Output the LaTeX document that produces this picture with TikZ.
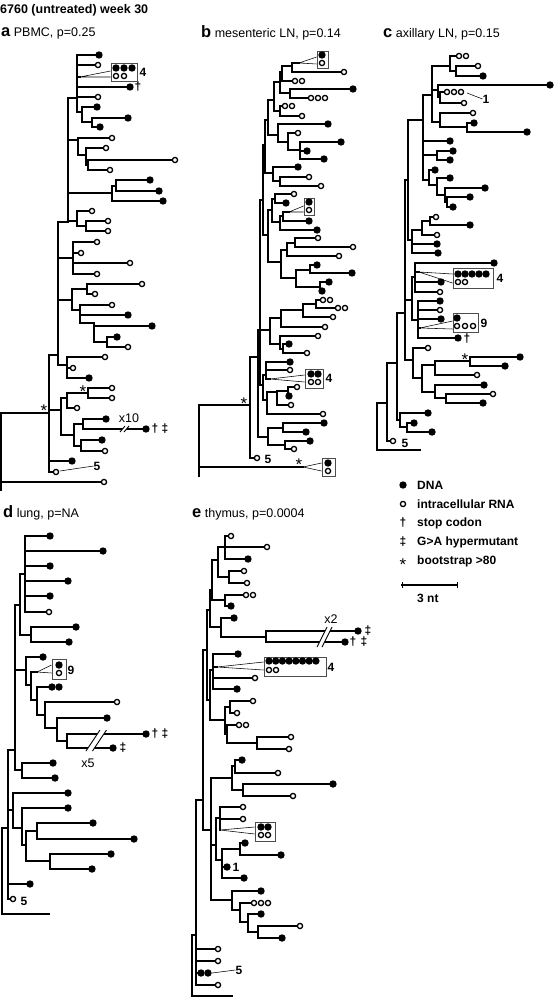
\documentclass[tikz,border=0pt]{standalone}
\usepackage{fontspec}
\setmainfont{Liberation Sans}
\usetikzlibrary{calc}
\tikzset{
  br/.style={line width=1.15pt, line cap=rect},
  dna/.style={circle, fill=black, inner sep=0pt, minimum size=7.4pt},
  rna/.style={circle, draw=black, fill=white, line width=1.3pt, inner sep=0pt, minimum size=5.2pt},
  grp/.style={draw=black!70, line width=0.8pt, inner sep=0pt},
  fan/.style={line width=0.55pt},
  cut/.style={line width=0.9pt},
  cnt/.style={font=\bfseries\fontsize{12}{12}\selectfont, inner sep=0pt},
  mut/.style={font=\bfseries\fontsize{12}{12}\selectfont, inner sep=0pt},
  boot/.style={font=\fontsize{17}{17}\selectfont, inner sep=0pt, yshift=-3.5pt},
  copies/.style={font=\fontsize{12.5}{12.5}\selectfont, inner sep=0pt},
  panel/.style={anchor=base west, inner sep=0pt, font=\fontsize{12.5}{14}\selectfont},
  key/.style={anchor=west, inner sep=0pt, font=\bfseries\fontsize{12}{14}\selectfont}
}
\newcommand{\pletter}[1]{{\bfseries\fontsize{16.5}{16}\selectfont #1}}
\newcommand{\seqleaf}[4]{\draw[br] (#1) |- (#2,#3) node[#4] {};}
\newcommand{\seqrow}[5]{\draw[br] (#1) |- (#2,#3);
  \foreach \k in {1,...,#5} {\node[#4] at ({#2+7*(\k-1)},#3) {};}}
\newcommand{\subclade}[2]{\draw[br] (#1) |- (#2);}
\newcommand{\cutmark}[5]{%
  \fill[white] (#1,#2) -- (#3,#4) -- ({#3+#5},#4) -- ({#1+#5},#2) -- cycle;
  \draw[cut] (#1,#2) -- (#3,#4) ({#1+#5},#2) -- ({#3+#5},#4);}

\begin{document}
\begin{tikzpicture}[x=1pt, y=-1pt, font=\fontsize{12.5}{14}\selectfont]
\useasboundingbox (0,0) rectangle (555,998);

\node[anchor=west, inner sep=0pt, font=\bfseries\fontsize{12.5}{14}\selectfont] (title) at (0,10) {6760 (untreated) week 30};

% ---------------- a: PBMC
\node[panel] (labA) at (1,37) {\pletter{a} PBMC, p=0.25};
\coordinate (a0) at (1,413);   \coordinate (aEnd) at (1,490);
\coordinate (aI) at (49,413);  \coordinate (as1) at (58,355);
\coordinate (aU) at (68,222);  \coordinate (aA1) at (77,98);
\coordinate (aA1s) at (82,112); \coordinate (aA1t) at (92,122);
\coordinate (aF) at (80,77);
\coordinate (aA2) at (78,140); \coordinate (aA2s) at (86,155); \coordinate (aA2t) at (88,165);
\coordinate (aA3) at (112,193); \coordinate (aA3s) at (116,186);
\coordinate (aA4) at (77,221); \coordinate (aA4s) at (86,226);
\coordinate (aA5) at (73,258);
\coordinate (aP) at (72,300); \coordinate (aT) at (87,289); \coordinate (aQ) at (80,310);
\coordinate (aR) at (94,323); \coordinate (aS) at (107,342);
\coordinate (ag3) at (67,365); \coordinate (ag2) at (61,410);
\coordinate (aG1) at (67,398); \coordinate (aSt) at (88,393);
\coordinate (aG2) at (74,435); \coordinate (an1) at (83,424); \coordinate (an2) at (81,446);

\draw[br] (aEnd) -- (a0) -- (aI);
\seqleaf{a0}{104}{482}{rna}
\subclade{aI}{as1} \subclade{aI}{ag2}
\seqleaf{aI}{72}{461}{dna}
\seqleaf{aI}{56}{472}{rna}
\subclade{as1}{aU} \subclade{as1}{aA5} \subclade{as1}{aP} \subclade{as1}{ag3}
\subclade{aU}{aA1} \subclade{aU}{aA2} \subclade{aU}{aA3} \subclade{aU}{aA4}
\seqleaf{aA1}{99}{55}{dna}
\seqleaf{aA1}{98}{65}{rna}
\subclade{aA1}{aF}
\seqleaf{aA1}{130}{87}{dna}
\seqleaf{aA1}{98}{97}{rna}
\subclade{aA1}{aA1s}
\seqleaf{aA1s}{97}{107}{dna}
\subclade{aA1s}{aA1t}
\seqleaf{aA1t}{128}{118}{dna}
\seqleaf{aA1t}{100}{127}{dna}
\seqleaf{aA2}{112}{138}{rna}
\subclade{aA2}{aA2s}
\seqleaf{aA2s}{106}{148}{rna}
\subclade{aA2s}{aA2t}
\seqleaf{aA2t}{175}{160}{rna}
\seqleaf{aA2t}{110}{170}{rna}
\subclade{aA3}{aA3s}
\seqleaf{aA3s}{150}{180}{dna}
\seqleaf{aA3s}{159}{191}{dna}
\seqleaf{aA3}{163}{201}{dna}
\seqleaf{aA4}{92}{211}{rna}
\subclade{aA4}{aA4s}
\seqleaf{aA4s}{108}{221}{rna}
\seqleaf{aA4s}{108}{231}{rna}
\seqleaf{aA5}{97}{242}{rna}
\seqleaf{aA5}{81}{253}{rna}
\seqleaf{aA5}{130}{263}{rna}
\seqleaf{aA5}{97}{274}{rna}
\subclade{aP}{aT} \subclade{aP}{aQ}
\seqleaf{aT}{142}{284}{rna}
\seqleaf{aT}{95}{294}{rna}
\seqleaf{aQ}{112}{305}{rna}
\seqleaf{aQ}{128}{315}{dna}
\subclade{aQ}{aR}
\seqleaf{aR}{152}{326}{dna}
\subclade{aR}{aS}
\seqleaf{aS}{117}{337}{dna}
\seqleaf{aS}{128}{347}{rna}
\seqleaf{ag3}{105}{357}{rna}
\seqleaf{ag3}{73}{368}{rna}
\seqleaf{ag3}{89}{378}{dna}
\subclade{ag2}{aG1} \subclade{ag2}{aG2}
\subclade{aG1}{aSt}
\seqleaf{aSt}{112}{388}{rna}
\seqleaf{aSt}{112}{398}{rna}
\seqleaf{aG1}{77}{408}{rna}
\subclade{aG2}{an1} \subclade{aG2}{an2}
\seqleaf{an1}{106}{419}{dna}
\seqleaf{an1}{146}{429}{dna}
\seqleaf{an2}{102}{440}{dna}
\seqleaf{an2}{105}{451}{rna}
\cutmark{120}{432}{125}{426}{4}
\node[copies] (aX) at (129,418) {x10};
\node[mut] at (155,429) {†};
\node[mut] at (165,429) {‡};
\node[mut] at (138,87) {†};
\node[boot] at (44,407) {*};
\node[boot] at (83,388) {*};
\node[grp, minimum width=26pt, minimum height=18pt] (aBox) at (124,72) {};
\draw[fan] (aF) -- ([yshift=1pt]aBox.west) (aF) -- ([yshift=-5pt]aBox.west);
\foreach \u in {116,124,132} \node[dna] at (\u,68) {};
\foreach \u in {116,124} \node[rna] at (\u,76) {};
\node[cnt] (a4) at (143,72) {4};
\node[cnt] (a5) at (97,466) {5};
\draw[fan] (60,471) -- (a5.west);

% ---------------- b: mesenteric LN
\node[panel] (labB) at (201,37.5) {\pletter{b} mesenteric LN, p=0.14};
\coordinate (b0) at (199,405); \coordinate (bEnd) at (199,476);
\coordinate (bOut) at (303,467);
\coordinate (bB0) at (250,405); \coordinate (bS1) at (258,357);
\coordinate (bS2) at (260,330); \coordinate (bS3) at (263,200);
\coordinate (bN8) at (265,145); \coordinate (bN7) at (268,120);
\coordinate (bN5) at (274,100); \coordinate (bN4) at (280,82);
\coordinate (bN2) at (282,72); \coordinate (bN1) at (292,66);
\coordinate (bF1) at (299,63);
\coordinate (bN3) at (290,93); \coordinate (bN5b) at (280,111);
\coordinate (bN6) at (278,135); \coordinate (bN6a) at (288,142); \coordinate (bN6b) at (300,150);
\coordinate (bN9) at (273,173); \coordinate (bN9a) at (280,181);
\coordinate (bN13) at (268,235); \coordinate (bN12) at (272,210);
\coordinate (bN10) at (275,199); \coordinate (bN11) at (280,222); \coordinate (bN11a) at (283,216);
\coordinate (bF2) at (289,212);
\coordinate (bC6) at (281,262); \coordinate (bC2) at (287,250); \coordinate (bC1) at (295,243);
\coordinate (bC5) at (296,278); \coordinate (bC3) at (310,270); \coordinate (bC4) at (320,287);
\coordinate (bD) at (270,330); \coordinate (bD3) at (281,318); \coordinate (bD2) at (303,310);
\coordinate (bD1) at (316,304); \coordinate (bD4) at (280,344); \coordinate (bD4a) at (283,349);
\coordinate (bE) at (263,385); \coordinate (bE1) at (266,375); \coordinate (bF3) at (270,379);
\coordinate (bE2) at (267,400); \coordinate (bE2a) at (277,392); \coordinate (bE2b) at (288,391);
\coordinate (bBL) at (268,437); \coordinate (bL1) at (283,428); \coordinate (bL2) at (285,445);

\draw[br] (bEnd) -- (b0) -- (bB0);
\draw[br] (b0) |- (bOut);
\subclade{bB0}{bS1}
\seqleaf{bB0}{257}{458}{rna}
\subclade{bS1}{bS2} \subclade{bS1}{bBL}
\subclade{bS2}{bS3} \subclade{bS2}{bD} \subclade{bS2}{bE}
\subclade{bS3}{bN8} \subclade{bS3}{bN13}
\subclade{bN8}{bN7} \subclade{bN8}{bN9}
\subclade{bN7}{bN5} \subclade{bN7}{bN6}
\subclade{bN5}{bN4} \subclade{bN5}{bN5b}
\subclade{bN4}{bN2} \subclade{bN4}{bN3}
\subclade{bN2}{bN1}
\seqrow{bN2}{295}{81}{rna}{2}
\subclade{bN1}{bF1}
\seqleaf{bN1}{344}{72}{rna}
\seqleaf{bN3}{353}{89}{dna}
\seqrow{bN3}{311}{98}{rna}{3}
\seqrow{bN5b}{285}{106}{rna}{2}
\seqleaf{bN5b}{302}{116}{rna}
\seqleaf{bN6}{328}{124}{dna}
\subclade{bN6}{bN6a}
\seqleaf{bN6a}{298}{133}{rna}
\subclade{bN6a}{bN6b}
\seqleaf{bN6b}{341}{142}{dna}
\seqleaf{bN6b}{307}{151}{dna}
\seqleaf{bN6b}{324}{159}{dna}
\seqleaf{bN9}{298}{167}{dna}
\subclade{bN9}{bN9a}
\seqleaf{bN9a}{309}{177}{rna}
\seqleaf{bN9a}{321}{186}{rna}
\subclade{bN13}{bN12} \subclade{bN13}{bC6}
\subclade{bN12}{bN10} \subclade{bN12}{bN11}
\seqleaf{bN10}{294}{194}{rna}
\seqleaf{bN10}{286}{203}{dna}
\subclade{bN11}{bN11a}
\subclade{bN11a}{bF2}
\seqleaf{bN11a}{309}{221}{dna}
\seqleaf{bN11}{317}{230}{dna}
\subclade{bC6}{bC2} \subclade{bC6}{bC5}
\subclade{bC2}{bC1}
\seqleaf{bC1}{318}{238}{rna}
\seqleaf{bC1}{353}{247}{rna}
\seqleaf{bC2}{339}{256}{rna}
\subclade{bC5}{bC3} \subclade{bC5}{bC4}
\seqleaf{bC3}{317}{265}{dna}
\seqleaf{bC3}{352}{273}{dna}
\seqleaf{bC4}{329}{282}{dna}
\seqleaf{bC4}{322}{291}{dna}
\subclade{bD}{bD3} \subclade{bD}{bD4}
\subclade{bD3}{bD2} \subclade{bD2}{bD1}
\seqrow{bD1}{323}{300}{rna}{2}
\seqrow{bD1}{338}{308}{rna}{2}
\seqleaf{bD2}{333}{317}{rna}
\seqleaf{bD3}{325}{327}{rna}
\seqleaf{bD4}{318}{336}{rna}
\subclade{bD4}{bD4a}
\seqleaf{bD4a}{289}{344}{dna}
\seqleaf{bD4a}{307}{353}{rna}
\subclade{bE}{bE1} \subclade{bE}{bE2}
\seqleaf{bE1}{290}{362}{dna}
\seqleaf{bE1}{290}{370}{rna}
\subclade{bE1}{bF3}
\subclade{bE2}{bE2a}
\subclade{bE2a}{bE2b}
\seqleaf{bE2b}{297}{387}{rna}
\seqleaf{bE2b}{289}{396}{dna}
\seqleaf{bE2a}{291}{405}{rna}
\seqleaf{bE2}{323}{414}{rna}
\subclade{bBL}{bL1} \subclade{bBL}{bL2}
\seqleaf{bL1}{324}{423}{dna}
\seqleaf{bL1}{306}{432}{dna}
\seqleaf{bL2}{310}{441}{dna}
\seqleaf{bL2}{294}{449}{rna}
\node[boot] at (244,400) {*};
\node[boot] at (299,461) {*};
\node[grp, minimum width=11pt, minimum height=17pt] (bBox1) at (322.5,59.5) {};
\draw[fan] (bF1) -- ([yshift=2.5pt]bBox1.west) (bF1) -- ([yshift=-4.5pt]bBox1.west);
\node[dna] at (322,55) {}; \node[rna] at (322,63) {};
\node[grp, minimum width=10pt, minimum height=17pt] (bBox2) at (309,206.5) {};
\draw[fan] (bF2) -- ([yshift=0.5pt]bBox2.west) (bF2) -- ([yshift=-5.5pt]bBox2.west);
\node[dna] at (309,202) {}; \node[rna] at (309,210) {};
\node[grp, minimum width=18pt, minimum height=19pt] (bBox3) at (314,378.5) {};
\draw[fan] (bF3) -- ([yshift=3.5pt]bBox3.west) (bF3) -- ([yshift=-3.5pt]bBox3.west);
\foreach \u in {311,318} {\node[dna] at (\u,374) {}; \node[rna] at (\u,382) {};}
\node[cnt] (b4) at (329,378) {4};
\node[grp, minimum width=13pt, minimum height=18pt] (bBox4) at (328.5,467) {};
\draw[fan] (bOut) -- ([yshift=4pt]bBox4.west) (bOut) -- ([yshift=-4pt]bBox4.west);
\node[dna] at (328,463) {}; \node[rna] at (328,471) {};
\node[cnt] (b5) at (268,459) {5};

% ---------------- c: axillary LN
\node[panel] (labC) at (383,37.5) {\pletter{c} axillary LN, p=0.15};
\coordinate (c0) at (377,403); \coordinate (cOut) at (420,450);
\coordinate (cI) at (387,403); \coordinate (cS3) at (397,363);
\coordinate (cL) at (400,420); \coordinate (cLa) at (407,427);
\coordinate (cS2) at (405,313); \coordinate (cS1) at (408,180);
\coordinate (cU) at (423,120); \coordinate (cc1) at (432,95);
\coordinate (cc1a) at (450,66); \coordinate (cc1e) at (456,71);
\coordinate (cc1c) at (438,90); \coordinate (cc1b) at (440,97);
\coordinate (cc1d) at (440,122); \coordinate (cc1f) at (467,127);
\coordinate (cc2a) at (437,155); \coordinate (cc2b) at (429,180);
\coordinate (cc2c) at (437,185); \coordinate (cc2d) at (445,195); \coordinate (cc2e) at (447,202);
\coordinate (cc3) at (412,240); \coordinate (cc3b) at (422,230); \coordinate (cc3a) at (430,221);
\coordinate (cc4) at (412,300); \coordinate (cc4a) at (415,277); \coordinate (cc4b) at (418,320);
\coordinate (cF1) at (419,272); \coordinate (cF2) at (420,328);
\coordinate (cc5) at (413,360); \coordinate (cc5c) at (422,378);
\coordinate (cc5a) at (435,365); \coordinate (cSt) at (470,361);
\coordinate (cc5b) at (435,392); \coordinate (cc5d) at (446,398);

\draw[br] (c0) -- (cI);
\draw[br] (c0) |- (cOut);
\subclade{cI}{cS3}
\seqleaf{cI}{393}{441}{rna}
\subclade{cS3}{cS2} \subclade{cS3}{cL}
\seqleaf{cL}{428}{413}{dna}
\subclade{cL}{cLa}
\seqleaf{cLa}{414}{423}{dna}
\seqleaf{cLa}{432}{432}{dna}
\subclade{cS2}{cS1} \subclade{cS2}{cc4} \subclade{cS2}{cc5}
\subclade{cS1}{cU} \subclade{cS1}{cc3}
\subclade{cU}{cc1} \subclade{cU}{cc2a} \subclade{cU}{cc2b}
\seqleaf{cU}{450}{141}{dna}
\subclade{cc1}{cc1a} \subclade{cc1}{cc1c} \subclade{cc1}{cc1d}
\seqrow{cc1a}{459}{56}{rna}{2}
\subclade{cc1a}{cc1e}
\seqleaf{cc1e}{478}{66}{rna}
\seqleaf{cc1e}{483}{76}{dna}
\seqleaf{cc1c}{550}{85}{dna}
\subclade{cc1c}{cc1b}
\seqrow{cc1b}{447}{92}{rna}{3}
\seqleaf{cc1b}{464}{103}{rna}
\seqleaf{cc1d}{473}{113}{rna}
\subclade{cc1d}{cc1f}
\seqleaf{cc1f}{474}{123}{dna}
\seqleaf{cc1f}{527}{132}{dna}
\seqleaf{cc2a}{453}{151}{dna}
\seqleaf{cc2a}{450}{160}{dna}
\seqleaf{cc2b}{435}{170}{dna}
\subclade{cc2b}{cc2c}
\seqleaf{cc2c}{450}{178}{dna}
\subclade{cc2c}{cc2d}
\seqleaf{cc2d}{485}{188}{dna}
\subclade{cc2d}{cc2e}
\seqleaf{cc2e}{470}{197}{dna}
\seqleaf{cc2e}{453}{207}{dna}
\subclade{cc3}{cc3b}
\subclade{cc3b}{cc3a}
\seqleaf{cc3a}{436}{217}{rna}
\seqleaf{cc3a}{470}{225}{dna}
\seqleaf{cc3b}{437}{235}{rna}
\seqleaf{cc3}{437}{244}{dna}
\seqleaf{cc3}{438}{253}{dna}
\subclade{cc4}{cc4a} \subclade{cc4}{cc4b}
\seqleaf{cc4a}{494}{263}{dna}
\subclade{cc4a}{cF1}
\seqleaf{cc4a}{441}{282}{dna}
\seqleaf{cc4a}{440}{292}{rna}
\seqleaf{cc4b}{440}{301}{dna}
\seqleaf{cc4b}{440}{310}{rna}
\seqleaf{cc4b}{441}{319}{dna}
\subclade{cc4b}{cF2}
\seqleaf{cc4b}{458}{338}{dna}
\node[mut] at (467,339) {†};
\seqleaf{cc5}{428}{348}{rna}
\subclade{cc5}{cc5c}
\subclade{cc5c}{cc5a} \subclade{cc5c}{cc5b}
\subclade{cc5a}{cSt}
\seqleaf{cSt}{520}{357}{dna}
\seqleaf{cSt}{505}{366}{dna}
\seqleaf{cc5a}{477}{375}{rna}
\seqleaf{cc5b}{484}{385}{dna}
\subclade{cc5b}{cc5d}
\seqleaf{cc5d}{493}{394}{rna}
\seqleaf{cc5d}{483}{403}{dna}
\node[boot] at (465,356) {*};
\node[cnt] (c1) at (486,99) {1};
\draw[fan] (467,93) -- (c1.west);
\node[grp, minimum width=40pt, minimum height=20pt] (cBox1) at (473,278) {};
\draw[fan] (cF1) -- ([yshift=4pt]cBox1.west) (cF1) -- ([yshift=-5pt]cBox1.west);
\foreach \k in {0,...,4} \node[dna] at ({458+7*\k},274) {};
\foreach \u in {458,465} \node[rna] at (\u,282) {};
\node[cnt] (c4) at (500,278) {4};
\node[grp, minimum width=25pt, minimum height=19pt] (cBox2) at (465.5,322.5) {};
\draw[fan] (cF2) -- ([yshift=1.5pt]cBox2.west) (cF2) -- ([yshift=-6.5pt]cBox2.west);
\node[dna] at (457,318) {};
\foreach \u in {457,465,473} \node[rna] at (\u,326) {};
\node[cnt] (c9) at (484,323) {9};
\node[cnt] (c5) at (405,443) {5};

% ---------------- d: lung
\node[panel] (labD) at (3,517) {\pletter{d} lung, p=NA};
\coordinate (d0) at (2,828); \coordinate (dOut) at (49,914);
\coordinate (dE) at (8,828); \coordinate (dAB) at (15,750);
\coordinate (dA) at (20,605); \coordinate (d1) at (25,574); \coordinate (d2) at (31,635);
\coordinate (dB) at (26,670); \coordinate (dB0) at (31,685); \coordinate (dF) at (37,672);
\coordinate (dB1) at (37,700); \coordinate (dB2) at (45,715);
\coordinate (dB3) at (57,728); \coordinate (dB4) at (67,741);
\coordinate (dC) at (22,770);
\coordinate (dD) at (13,810); \coordinate (dD4) at (22,828); \coordinate (dD3) at (26,845);
\coordinate (dD1) at (37,831); \coordinate (dD2) at (50,861);

\draw[br] (d0) -- (dE);
\draw[br] (d0) |- (dOut);
\subclade{dE}{dAB} \subclade{dE}{dD}
\seqleaf{dE}{30}{884}{dna}
\seqleaf{dE}{13}{899}{rna}
\subclade{dAB}{dA} \subclade{dAB}{dB} \subclade{dAB}{dC}
\subclade{dA}{d1} \subclade{dA}{d2}
\seqleaf{d1}{50}{536}{dna}
\seqleaf{d1}{103}{551}{dna}
\seqleaf{d1}{50}{566}{dna}
\seqleaf{d1}{68}{581}{dna}
\seqleaf{d1}{50}{596}{dna}
\seqleaf{d1}{49}{612}{rna}
\seqleaf{d2}{76}{627}{dna}
\seqleaf{d2}{69}{642}{dna}
\seqleaf{dB}{43}{657}{dna}
\subclade{dB}{dB0}
\subclade{dB0}{dF}
\subclade{dB0}{dB1}
\seqrow{dB1}{52}{687}{dna}{2}
\subclade{dB1}{dB2}
\seqleaf{dB2}{117}{702}{rna}
\subclade{dB2}{dB3}
\seqleaf{dB3}{107}{718}{dna}
\subclade{dB3}{dB4}
\seqleaf{dB4}{146}{734}{dna}
\seqleaf{dB4}{113}{748}{dna}
\cutmark{86}{751}{100}{730}{6.5}
\node[copies] (dX) at (88,763) {x5};
\node[mut] at (155,734) {†};
\node[mut] at (165,734) {‡};
\node[mut] at (123,748) {‡};
\seqleaf{dC}{53}{763}{dna}
\seqleaf{dC}{55}{778}{dna}
\seqleaf{dD}{68}{793}{dna}
\subclade{dD}{dD4}
\seqleaf{dD4}{68}{808}{dna}
\subclade{dD4}{dD3}
\subclade{dD3}{dD1} \subclade{dD3}{dD2}
\seqleaf{dD1}{93}{823}{dna}
\seqleaf{dD1}{134}{839}{dna}
\seqleaf{dD2}{111}{854}{dna}
\seqleaf{dD2}{92}{869}{dna}
\node[grp, minimum width=14pt, minimum height=20pt] (dBox) at (59,669) {};
\draw[fan] (dF) -- ([yshift=4pt]dBox.west) (dF) -- ([yshift=-4pt]dBox.west);
\node[dna] at (59,665) {}; \node[rna] at (59,673) {};
\node[cnt] (d9) at (71,670) {9};
\node[cnt] (d5) at (24,901) {5};

% ---------------- e: thymus
\node[panel] (labE) at (192,517) {\pletter{e} thymus, p=0.0004};
\coordinate (e0) at (192,935); \coordinate (eOut) at (232,996);
\coordinate (e9) at (196,935); \coordinate (e8) at (203,800);
\coordinate (e6) at (207,650); \coordinate (e4) at (210,610);
\coordinate (e2) at (212,590); \coordinate (e1) at (218,560);
\coordinate (e1a) at (225,547); \coordinate (e1b) at (229,577); \coordinate (e1c) at (225,600);
\coordinate (e3) at (221,627); \coordinate (e3a) at (266,637);
\coordinate (e5) at (210,700); \coordinate (e5a) at (213,670); \coordinate (eF1) at (217,667);
\coordinate (e5d) at (225,720); \coordinate (e5b) at (230,707);
\coordinate (e5c) at (227,734); \coordinate (e5e) at (257,743);
\coordinate (e7) at (211,830); \coordinate (e7c) at (232,778);
\coordinate (e7a) at (235,766); \coordinate (e7b) at (243,790);
\coordinate (e7h) at (216,845); \coordinate (e7d) at (220,818); \coordinate (eF2) at (220,830);
\coordinate (e7e) at (222,860); \coordinate (e7g) at (240,849);
\coordinate (e7f) at (232,900); \coordinate (e7i) at (240,910);
\coordinate (e7j) at (248,922); \coordinate (e7k) at (258,932);

\draw[br] (e0) -- (e9);
\draw[br] (e0) |- (eOut);
\subclade{e9}{e8}
\seqleaf{e9}{218}{949}{rna}
\seqleaf{e9}{218}{961}{rna}
\seqrow{e9}{201}{973}{dna}{2}
\seqleaf{e9}{218}{985}{rna}
\subclade{e8}{e6} \subclade{e8}{e7}
\subclade{e6}{e4} \subclade{e6}{e5}
\subclade{e4}{e2} \subclade{e4}{e3}
\subclade{e2}{e1} \subclade{e2}{e1c}
\subclade{e1}{e1a} \subclade{e1}{e1b}
\seqleaf{e1a}{231}{536}{rna}
\seqleaf{e1a}{267}{547}{rna}
\seqleaf{e1a}{248}{559}{dna}
\seqleaf{e1b}{244}{571}{rna}
\seqleaf{e1b}{247}{583}{rna}
\seqrow{e1c}{246}{595}{rna}{2}
\seqleaf{e1c}{231}{606}{dna}
\seqleaf{e3}{234}{618}{dna}
\subclade{e3}{e3a}
\seqleaf{e3a}{358}{631}{dna}
\seqleaf{e3a}{345}{642}{dna}
\cutmark{317}{647}{327}{627}{5}
\node[copies] (eX) at (331,619) {x2};
\node[mut] at (368,631) {‡};
\node[mut] at (353,642) {†};
\node[mut] at (364,642) {‡};
\subclade{e5}{e5a} \subclade{e5}{e5d}
\seqleaf{e5a}{238}{654}{dna}
\subclade{e5a}{eF1}
\seqleaf{e5a}{255}{678}{rna}
\seqleaf{e5a}{237}{689}{dna}
\subclade{e5d}{e5b} \subclade{e5d}{e5c}
\seqleaf{e5b}{253}{701}{rna}
\seqleaf{e5b}{237}{713}{rna}
\seqrow{e5c}{239}{725}{rna}{2}
\subclade{e5c}{e5e}
\seqleaf{e5e}{291}{737}{rna}
\seqleaf{e5e}{289}{749}{rna}
\subclade{e7}{e7c} \subclade{e7}{e7h} \subclade{e7}{e7f}
\subclade{e7c}{e7a} \subclade{e7c}{e7b}
\seqleaf{e7a}{242}{760}{dna}
\seqleaf{e7a}{278}{773}{rna}
\seqleaf{e7b}{333}{784}{dna}
\seqleaf{e7b}{293}{796}{rna}
\subclade{e7h}{e7d} \subclade{e7h}{e7e}
\seqleaf{e7d}{243}{807}{rna}
\seqleaf{e7d}{243}{819}{rna}
\subclade{e7d}{eF2}
\subclade{e7e}{e7g}
\seqleaf{e7g}{245}{843}{dna}
\seqleaf{e7g}{281}{855}{dna}
\seqleaf{e7e}{227}{867}{dna}
\seqleaf{e7e}{244}{878}{dna}
\seqleaf{e7f}{261}{891}{dna}
\subclade{e7f}{e7i}
\seqrow{e7i}{254}{903}{rna}{3}
\subclade{e7i}{e7j}
\seqleaf{e7j}{261}{914}{dna}
\subclade{e7j}{e7k}
\seqleaf{e7k}{300}{926}{rna}
\seqleaf{e7k}{282}{938}{dna}
\node[grp, minimum width=62pt, minimum height=19pt] (eBox1) at (295,666.5) {};
\draw[fan] (eF1) -- ([yshift=4.5pt]eBox1.west) (eF1) -- ([yshift=-3.5pt]eBox1.west);
\foreach \k in {0,...,7} \node[dna] at ({269+6.7*\k},661) {};
\foreach \u in {269,276} \node[rna] at (\u,670) {};
\node[cnt] (e4n) at (331,667) {4};
\node[grp, minimum width=20pt, minimum height=19pt] (eBox2) at (265,831.5) {};
\draw[fan] (eF2) -- ([yshift=4.5pt]eBox2.west) (eF2) -- ([yshift=-2.5pt]eBox2.west);
\foreach \u in {261,268} {\node[dna] at (\u,827) {}; \node[rna] at (\u,835) {};}
\node[cnt] (e1n) at (236,867) {1};
\node[cnt] (e5n) at (239,970) {5};
\draw[fan] (212,973) -- (e5n.west);

% ---------------- key
\node[dna] (kDna) at (403,485) {};
\node[key] at (417,485) {DNA};
\node[rna] (kRna) at (403,504) {};
\node[key] at (417,504) {intracellular RNA};
\node[mut] (kStop) at (403,523) {†};
\node[key] at (417,523) {stop codon};
\node[mut] (kHyp) at (403,542) {‡};
\node[key] at (417,542) {G>A hypermutant};
\node[boot] (kBoot) at (403,561) {*};
\node[key] at (417,561) {bootstrap >80};
\coordinate (sL) at (402,585); \coordinate (sR) at (457,585);
\draw[br] (sL) -- (sR);
\draw[line width=0.8pt] ([yshift=3pt]sL) -- ([yshift=-3pt]sL) ([yshift=3pt]sR) -- ([yshift=-3pt]sR);
\node[key] at (417,598) {3 nt};
\end{tikzpicture}
\end{document}
